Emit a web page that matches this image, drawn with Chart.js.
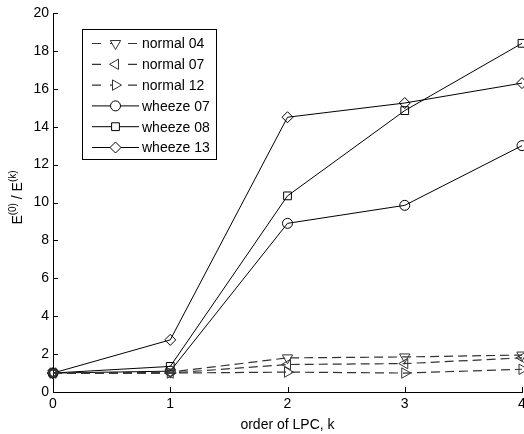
<!DOCTYPE html>
<html>
<head>
<meta charset="utf-8">
<script src="https://cdn.jsdelivr.net/npm/chart.js@4/dist/chart.umd.min.js"></script>
<style>
  body { margin: 0; background: #fff; }
  #wrap { width: 524px; height: 434px; }
</style>
</head>
<body>
<div id="wrap"><canvas id="lpcChart"></canvas></div>
<script>
const orders = [0, 1, 2, 3, 4];
const normal04 = [1, 1.05, 1.8, 1.85, 1.95];
const normal07 = [1, 1.0, 1.45, 1.5, 1.8];
const normal12 = [1, 1.0, 1.05, 1.0, 1.2];
const wheeze07 = [1, 1.1, 8.9, 9.85, 13.0];
const wheeze08 = [1, 1.35, 10.35, 14.85, 18.4];
const wheeze13 = [1, 2.75, 14.5, 15.25, 16.3];
const yTicks = [0, 2, 4, 6, 8, 10, 12, 14, 16, 18, 20];

const FONT = '"Liberation Sans", Arial, Helvetica, sans-serif';

function pts(vals) {
    return orders.map((k, i) => ({ x: k, y: vals[i] }));
}

function series(label, vals, style, rot, dashed) {
    return {
        label: label,
        data: pts(vals),
        borderColor: dashed ? '#333' : '#000',
        borderWidth: dashed ? 1.2 : 1,
        borderDash: dashed ? [9, 5] : [],
        pointStyle: style,
        pointRotation: rot,
        pointRadius: style === 'circle' ? 5 : (style === 'triangle' ? 6 : 5.5),
        pointBorderColor: dashed ? '#333' : '#000',
        pointBorderWidth: 1,
        pointBackgroundColor: 'rgba(0,0,0,0)',
        tension: 0,
        clip: false
    };
}

// inward tick marks, y title with superscripts, boxed legend
const extras = {
    id: 'extras',
    afterDraw(chart) {
        const ctx = chart.ctx;
        const area = chart.chartArea;
        const xs = chart.scales.x, ys = chart.scales.y;
        ctx.save();
        ctx.strokeStyle = '#000';
        ctx.lineWidth = 1;
        ctx.beginPath();
        xs.ticks.forEach(t => {
            const px = Math.round(xs.getPixelForValue(t.value)) + 0.5;
            ctx.moveTo(px, area.bottom);
            ctx.lineTo(px, area.bottom - 5);
        });
        ys.ticks.forEach(t => {
            const py = Math.round(ys.getPixelForValue(t.value)) + 0.5;
            ctx.moveTo(area.left, py);
            ctx.lineTo(area.left + 5, py);
        });
        ctx.stroke();

        // y title: E^(0) / E^(k)
        const parts = [
            { t: 'E', sup: false }, { t: '(0)', sup: true },
            { t: ' / E', sup: false }, { t: '(k)', sup: true }
        ];
        const big = '14px ' + FONT, small = '10px ' + FONT;
        let total = 0;
        parts.forEach(p => {
            ctx.font = p.sup ? small : big;
            p.w = ctx.measureText(p.t).width;
            total += p.w;
        });
        ctx.translate(22, (area.top + area.bottom) / 2 - 5);
        ctx.rotate(-Math.PI / 2);
        ctx.fillStyle = '#000';
        ctx.textBaseline = 'alphabetic';
        let cx = -total / 2;
        parts.forEach(p => {
            ctx.font = p.sup ? small : big;
            ctx.fillText(p.t, cx, p.sup ? -6 : 0);
            cx += p.w;
        });
        ctx.setTransform(1, 0, 0, 1, 0, 0);

        // legend
        const bx = 82.5, by = 29.5, bw = 134, bh = 130;
        ctx.fillStyle = '#fff';
        ctx.fillRect(bx, by, bw, bh);
        ctx.strokeStyle = '#000';
        ctx.setLineDash([]);
        ctx.strokeRect(bx, by, bw, bh);
        ctx.font = '14px ' + FONT;
        ctx.textBaseline = 'middle';
        chart.data.datasets.forEach((ds, i) => {
            const y = 43.5 + i * 20.8;
            ctx.strokeStyle = ds.borderColor;
            ctx.lineWidth = ds.borderWidth;
            ctx.setLineDash(ds.borderDash.length ? [9, 9] : []);
            ctx.beginPath();
            ctx.moveTo(92, y);
            ctx.lineTo(139, y);
            ctx.stroke();
            ctx.setLineDash([]);
            ctx.lineWidth = 1;
            ctx.fillStyle = '#fff';
            Chart.helpers.drawPoint(ctx, {
                pointStyle: ds.pointStyle,
                rotation: ds.pointRotation,
                radius: ds.pointRadius,
                borderWidth: 1
            }, 115.5, y);
            ctx.fillStyle = '#000';
            ctx.fillText(ds.label, 142, y + 1);
        });
        ctx.restore();
    }
};

new Chart(document.getElementById('lpcChart'), {
    type: 'line',
    data: {
        datasets: [
            series('normal 04', normal04, 'triangle', 180, true),
            series('normal 07', normal07, 'triangle', 270, true),
            series('normal 12', normal12, 'triangle', 90, true),
            series('wheeze 07', wheeze07, 'circle', 0, false),
            series('wheeze 08', wheeze08, 'rect', 0, false),
            series('wheeze 13', wheeze13, 'rectRot', 0, false)
        ]
    },
    options: {
        responsive: true,
        maintainAspectRatio: false,
        animation: false,
        layout: { autoPadding: false, padding: { top: 13, right: 2, left: 0, bottom: 0 } },
        plugins: {
            legend: { display: false },
            tooltip: { enabled: false }
        },
        scales: {
            x: {
                type: 'linear',
                min: 0,
                max: 4,
                afterFit: s => { s.height = 42; s.paddingLeft = 0; s.paddingRight = 0; },
                grid: { drawOnChartArea: false, drawTicks: false },
                border: { display: true, color: '#000', width: 1 },
                ticks: {
                    stepSize: 1,
                    padding: 4,
                    color: '#000',
                    font: { family: FONT, size: 14 }
                },
                title: {
                    display: true,
                    text: 'order of LPC, k',
                    color: '#000',
                    font: { family: FONT, size: 14 },
                    padding: { top: 0, bottom: 0 }
                }
            },
            y: {
                min: 0,
                max: 20,
                afterFit: s => { s.width = 53; },
                afterBuildTicks: s => { s.ticks = yTicks.map(v => ({ value: v })); },
                grid: { drawOnChartArea: false, drawTicks: false },
                border: { display: true, color: '#000', width: 1 },
                ticks: {
                    padding: 4,
                    color: '#000',
                    font: { family: FONT, size: 14 }
                }
            }
        }
    },
    plugins: [extras]
});
</script>
</body>
</html>
